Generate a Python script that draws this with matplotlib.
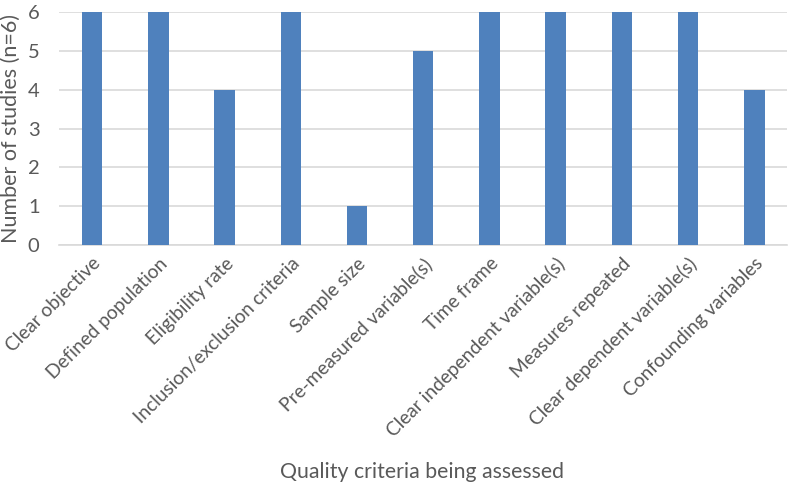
import matplotlib
matplotlib.use("Agg")
import matplotlib.pyplot as plt

categories = ["Clear objective", "Defined population", "Eligibility rate",
              "Inclusion/exclusion criteria", "Sample size", "Pre-measured variable(s)",
              "Time frame", "Clear independent variable(s)", "Measures repeated",
              "Clear dependent variable(s)", "Confounding variables"]
values = [6, 6, 4, 6, 1, 5, 6, 6, 6, 6, 4]
yticks = [0, 1, 2, 3, 4, 5, 6]

plt.rcParams['font.family'] = ['Lato', 'DejaVu Sans']
txt = '#595959'

fig = plt.figure(figsize=(7.89, 4.88), dpi=100)
ax = fig.add_axes([0.0748, 0.498, 0.9232, 0.477])
x = list(range(len(categories)))
ax.bar(x, values, width=0.31, color='#4f81bd', zorder=3)
ax.set_xlim(-0.5, len(categories) - 0.5)
ax.set_ylim(0, 6)
ax.set_yticks(yticks)
ax.set_yticklabels([str(v) for v in yticks], fontsize=14.5, color=txt)
ax.set_xticks(x)
ax.set_xticklabels(categories, rotation=45, ha='right', rotation_mode='anchor',
                   fontsize=13.8, color=txt)
ax.tick_params(axis='both', length=0)
ax.tick_params(axis='x', pad=7)
ax.tick_params(axis='y', pad=14)
ax.yaxis.grid(True, color='#d9d9d9', linewidth=1.2, zorder=0)
for s in ['top', 'right', 'left']:
    ax.spines[s].set_visible(False)
ax.spines['bottom'].set_color('#d9d9d9')
ax.spines['bottom'].set_linewidth(1.2)
ax.set_ylabel("Number of studies (n=6)", fontsize=15.5, color=txt, labelpad=5)
fig.text(0.535, 0.033, "Quality criteria being assessed", ha='center', va='center',
         fontsize=15.3, color=txt)
fig.savefig("out.png", dpi=100)
